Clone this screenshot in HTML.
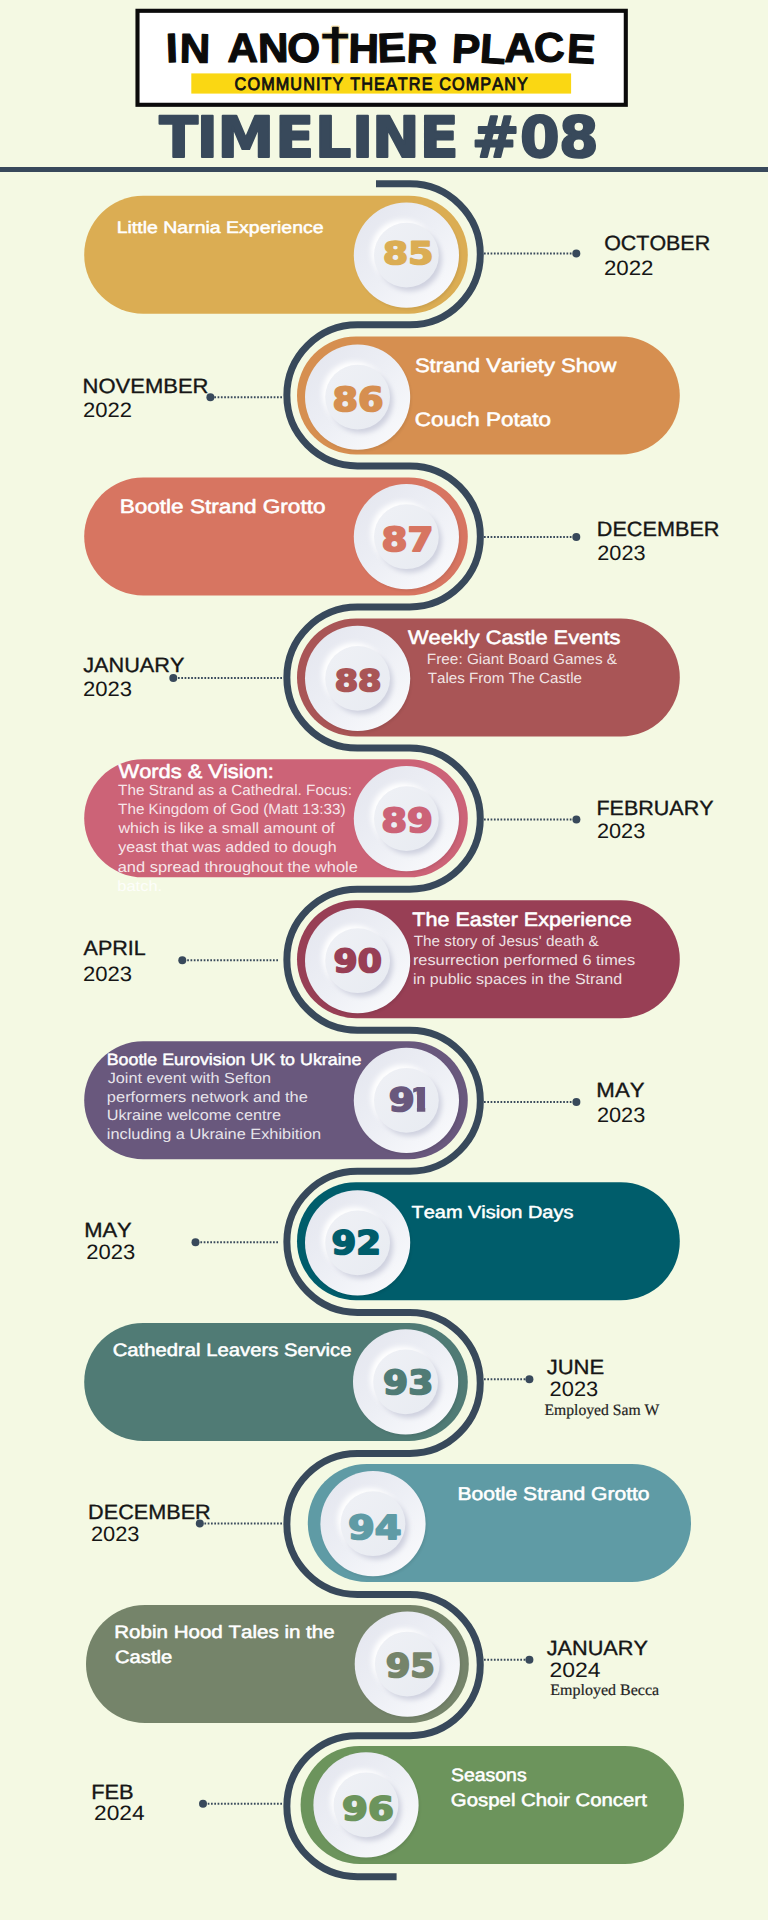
<!DOCTYPE html>
<html lang="en"><head><meta charset="utf-8"><title>In Another Place - Timeline #08</title>
<style>
html,body{margin:0;padding:0;background:#F4F9E3;}
body{width:768px;height:1920px;overflow:hidden;position:relative;font-family:'Liberation Sans', 'DejaVu Sans', sans-serif;}
svg{display:block;position:absolute;left:0;top:0}
text{white-space:pre;font-kerning:none;text-rendering:geometricPrecision}
</style></head><body>
<svg width="768" height="1920" viewBox="0 0 768 1920">
<defs>
<linearGradient id="gOuter" x1="0.15" y1="0.15" x2="0.85" y2="0.85">
<stop offset="0" stop-color="#E6E8F0"/><stop offset="0.5" stop-color="#EDEFF5"/><stop offset="1" stop-color="#F7F8FB"/>
</linearGradient>
<linearGradient id="gInner" x1="0.15" y1="0.15" x2="0.85" y2="0.85">
<stop offset="0" stop-color="#EEF0F5"/><stop offset="1" stop-color="#E9ECF2"/>
</linearGradient>
<filter id="blur3" x="-30%" y="-30%" width="160%" height="160%"><feGaussianBlur stdDeviation="2.6"/></filter>
<filter id="blur2" x="-30%" y="-30%" width="160%" height="160%"><feGaussianBlur stdDeviation="1.6"/></filter>
<g id="btn">
<circle cx="1.5" cy="2" r="52" fill="#000" opacity="0.08" filter="url(#blur2)"/>
<circle cx="0" cy="0" r="52.6" fill="url(#gOuter)"/>
<circle cx="-3.5" cy="-3.5" r="32" fill="#FFFFFF" filter="url(#blur3)"/>
<circle cx="3.5" cy="4" r="32" fill="#CFD1DF" filter="url(#blur3)"/>
<circle cx="0" cy="0" r="32.4" fill="url(#gInner)"/>
</g>
</defs>
<rect width="768" height="1920" fill="#F4F9E3"/>

<g id="logo">
<rect x="137.5" y="10.8" width="488.3" height="94" fill="#FFFFFF" stroke="#0B0B0B" stroke-width="4.1"/>
<rect x="191.3" y="73.4" width="379.8" height="20.2" fill="#FAD713"/>
<g id="cross-bg" fill="#F6E2AE">
<rect x="330.8" y="25.4" width="9.2" height="38.9" rx="1.6"/>
<rect x="321.6" y="32.4" width="27.2" height="7.7" rx="1.6"/>
</g>
<text transform="scale(1.0299 1)" font-size="40.99" fill="#0B0B0B" font-family="'Liberation Sans', 'DejaVu Sans', sans-serif" font-weight="bold" stroke="#0B0B0B" stroke-width="1.2" stroke-linejoin="round"><tspan x="161.79" y="62.20" rotate="-2">I</tspan><tspan x="174.39" y="62.20" rotate="1">N</tspan> <tspan x="220.92" y="62.20">A</tspan><tspan x="250.86" y="62.20" rotate="-1">N</tspan><tspan x="278.85" y="62.20">O</tspan><tspan x="312.46" y="63.00" font-size="42.52" stroke="none">T</tspan><tspan x="338.09" y="62.20" rotate="1">H</tspan><tspan x="367.04" y="62.20" rotate="-2">E</tspan><tspan x="394.47" y="62.20" rotate="2">R</tspan> <tspan x="438.21" y="62.20" rotate="3">P</tspan><tspan x="465.26" y="62.20" rotate="4">L</tspan><tspan x="489.68" y="62.20">A</tspan><tspan x="519.27" y="62.20" rotate="-3">C</tspan><tspan x="550.11" y="62.20" rotate="3">E</tspan></text>
<rect id="cross-top" x="332.1" y="26.7" width="6.6" height="8" rx="0.8" fill="#0B0B0B"/>
<text transform="translate(234.60 89.90) scale(0.9000 1)" font-size="18.02" fill="#111111" font-family="'Liberation Sans', 'DejaVu Sans', sans-serif" stroke="#111111" stroke-width="0.85" stroke-linejoin="round" letter-spacing="1.230">COMMUNITY THEATRE COMPANY</text>
</g>
<text transform="scale(1.0048 1)" font-size="56.65" fill="#38495B" font-family="'DejaVu Sans', 'Liberation Sans', sans-serif" font-weight="bold" stroke="#38495B" stroke-width="2.0" stroke-linejoin="round"><tspan x="158.59" y="156.50">T</tspan><tspan x="195.84" y="156.50">I</tspan><tspan x="216.36" y="156.50">M</tspan><tspan x="273.97" y="156.50">E</tspan><tspan x="313.54" y="156.50">L</tspan><tspan x="350.21" y="156.50">I</tspan><tspan x="370.32" y="156.50">N</tspan><tspan x="417.69" y="156.50">E</tspan> <tspan x="469.52" y="156.50">#</tspan><tspan x="517.63" y="156.50">0</tspan><tspan x="556.32" y="156.50">8</tspan></text>
<rect x="0" y="167" width="768" height="5" fill="#38495B"/>
<path id="track" d="M376 183.75 H409.8 A70.54 70.54 0 0 1 409.8 324.83 H357.4 A70.54 70.54 0 0 0 357.4 465.91 H409.8 A70.54 70.54 0 0 1 409.8 606.99 H357.4 A70.54 70.54 0 0 0 357.4 748.07 H409.8 A70.54 70.54 0 0 1 409.8 889.15 H357.4 A70.54 70.54 0 0 0 357.4 1030.23 H409.8 A70.54 70.54 0 0 1 409.8 1171.31 H357.4 A70.54 70.54 0 0 0 357.4 1312.39 H409.8 A70.54 70.54 0 0 1 409.8 1453.47 H357.4 A70.54 70.54 0 0 0 357.4 1594.55 H409.8 A70.54 70.54 0 0 1 409.8 1735.63 H357.4 A70.54 70.54 0 0 0 357.4 1876.71 H396.6" fill="none" stroke="#38495B" stroke-width="7"/>
<g class="row" id="item-85">
<rect class="pill" x="84.2" y="195.65" width="383.6" height="118" rx="59" fill="#DBAD53"/>
<use href="#btn" x="406.4" y="255.15"/>
<text transform="translate(383.10 264.40) scale(1.1667 1)" font-size="30.86" fill="#DBAD53" font-family="'DejaVu Sans', 'Liberation Sans', sans-serif" font-weight="bold" stroke="#DBAD53" stroke-width="1.8" stroke-linejoin="round">85</text>
<text transform="translate(116.64 233.00) scale(1.1704 1)" font-size="16.66" fill="#FFFFFF" font-family="'Liberation Sans', 'DejaVu Sans', sans-serif" stroke="#FFFFFF" stroke-width="0.48" stroke-linejoin="round">Little Narnia Experience</text>
<line x1="484" y1="253.4" x2="576.3" y2="253.4" stroke="#38495B" stroke-width="2" stroke-dasharray="1.7 1.6"/>
<circle cx="576.3" cy="253.4" r="4" fill="#38495B"/>
<text transform="translate(604.16 250.40) scale(1.0392 1)" font-size="20.64" fill="#161616" font-family="'Liberation Sans', 'DejaVu Sans', sans-serif" stroke="#161616" stroke-width="0.35" stroke-linejoin="round">OCTOBER</text>
<text transform="translate(603.88 274.90) scale(1.0812 1)" font-size="20.64" fill="#161616" font-family="'Liberation Sans', 'DejaVu Sans', sans-serif">2022</text>
</g>
<g class="row" id="item-86">
<rect class="pill" x="297" y="336.58" width="382.8" height="118" rx="59" fill="#D68F50"/>
<use href="#btn" x="357.6" y="397.08"/>
<text transform="translate(332.46 411.30) scale(1.1065 1)" font-size="33.20" fill="#D68F50" font-family="'DejaVu Sans', 'Liberation Sans', sans-serif" font-weight="bold" stroke="#D68F50" stroke-width="1.8" stroke-linejoin="round">86</text>
<text transform="translate(414.88 372.20) scale(1.1380 1)" font-size="19.43" fill="#FFFFFF" font-family="'Liberation Sans', 'DejaVu Sans', sans-serif" stroke="#FFFFFF" stroke-width="0.56" stroke-linejoin="round">Strand Variety Show</text>
<text transform="translate(414.74 426.10) scale(1.1577 1)" font-size="19.43" fill="#FFFFFF" font-family="'Liberation Sans', 'DejaVu Sans', sans-serif" stroke="#FFFFFF" stroke-width="0.56" stroke-linejoin="round">Couch Potato</text>
<line x1="282" y1="397.2" x2="210.4" y2="397.2" stroke="#38495B" stroke-width="2" stroke-dasharray="1.7 1.6"/>
<circle cx="210.4" cy="397.2" r="4" fill="#38495B"/>
<text transform="translate(82.57 392.50) scale(1.0665 1)" font-size="20.64" fill="#161616" font-family="'Liberation Sans', 'DejaVu Sans', sans-serif" stroke="#161616" stroke-width="0.35" stroke-linejoin="round">NOVEMBER</text>
<text transform="translate(83.09 416.70) scale(1.0675 1)" font-size="20.64" fill="#161616" font-family="'Liberation Sans', 'DejaVu Sans', sans-serif">2022</text>
</g>
<g class="row" id="item-87">
<rect class="pill" x="84.2" y="477.51" width="383.6" height="118" rx="59" fill="#D77561"/>
<use href="#btn" x="406.4" y="536.71"/>
<text transform="translate(381.42 551.30) scale(1.1246 1)" font-size="33.20" fill="#D77561" font-family="'DejaVu Sans', 'Liberation Sans', sans-serif" font-weight="bold" stroke="#D77561" stroke-width="1.8" stroke-linejoin="round">87</text>
<text transform="translate(119.63 513.40) scale(1.1630 1)" font-size="19.43" fill="#FFFFFF" font-family="'Liberation Sans', 'DejaVu Sans', sans-serif" stroke="#FFFFFF" stroke-width="0.56" stroke-linejoin="round">Bootle Strand Grotto</text>
<line x1="484" y1="537" x2="576.3" y2="537" stroke="#38495B" stroke-width="2" stroke-dasharray="1.7 1.6"/>
<circle cx="576.3" cy="537" r="4" fill="#38495B"/>
<text transform="translate(596.80 535.50) scale(1.0492 1)" font-size="20.64" fill="#161616" font-family="'Liberation Sans', 'DejaVu Sans', sans-serif" stroke="#161616" stroke-width="0.35" stroke-linejoin="round">DECEMBER</text>
<text transform="translate(597.31 560.00) scale(1.0507 1)" font-size="20.64" fill="#161616" font-family="'Liberation Sans', 'DejaVu Sans', sans-serif">2023</text>
</g>
<g class="row" id="item-88">
<rect class="pill" x="297" y="618.44" width="382.8" height="118" rx="59" fill="#A95556"/>
<use href="#btn" x="357.6" y="678.34"/>
<text transform="translate(334.75 691.00) scale(1.1334 1)" font-size="29.63" fill="#A95556" font-family="'DejaVu Sans', 'Liberation Sans', sans-serif" font-weight="bold" stroke="#A95556" stroke-width="1.8" stroke-linejoin="round">88</text>
<text transform="translate(407.98 644.40) scale(1.1245 1)" font-size="19.43" fill="#FFFFFF" font-family="'Liberation Sans', 'DejaVu Sans', sans-serif" stroke="#FFFFFF" stroke-width="0.56" stroke-linejoin="round">Weekly Castle Events</text>
<text transform="translate(426.84 663.90) scale(1.0351 1)" font-size="14.83" fill="#FFFFFF" font-family="'Liberation Sans', 'DejaVu Sans', sans-serif" fill-opacity="0.86">Free: Giant Board Games &amp;</text>
<text transform="translate(427.76 683.00) scale(1.0228 1)" font-size="14.83" fill="#FFFFFF" font-family="'Liberation Sans', 'DejaVu Sans', sans-serif" fill-opacity="0.86">Tales From The Castle</text>
<line x1="282" y1="678" x2="173.3" y2="678" stroke="#38495B" stroke-width="2" stroke-dasharray="1.7 1.6"/>
<circle cx="173.3" cy="678" r="4" fill="#38495B"/>
<text transform="translate(83.24 671.70) scale(1.0512 1)" font-size="20.64" fill="#161616" font-family="'Liberation Sans', 'DejaVu Sans', sans-serif" stroke="#161616" stroke-width="0.35" stroke-linejoin="round">JANUARY</text>
<text transform="translate(82.89 696.00) scale(1.0689 1)" font-size="20.64" fill="#161616" font-family="'Liberation Sans', 'DejaVu Sans', sans-serif">2023</text>
</g>
<g class="row" id="item-89">
<rect class="pill" x="84.2" y="759.37" width="383.6" height="118" rx="59" fill="#CC6377"/>
<use href="#btn" x="406.4" y="818.57"/>
<text transform="translate(381.14 832.20) scale(1.1178 1)" font-size="33.20" fill="#CC6377" font-family="'DejaVu Sans', 'Liberation Sans', sans-serif" font-weight="bold" stroke="#CC6377" stroke-width="1.8" stroke-linejoin="round">89</text>
<text transform="translate(118.58 778.10) scale(1.1244 1)" font-size="19.43" fill="#FFFFFF" font-family="'Liberation Sans', 'DejaVu Sans', sans-serif" stroke="#FFFFFF" stroke-width="0.56" stroke-linejoin="round">Words &amp; Vision:</text>
<text transform="translate(118.06 794.50) scale(1.0319 1)" font-size="14.83" fill="#FFFFFF" font-family="'Liberation Sans', 'DejaVu Sans', sans-serif" fill-opacity="0.86">The Strand as a Cathedral. Focus:</text>
<text transform="translate(118.06 814.00) scale(1.0301 1)" font-size="14.83" fill="#FFFFFF" font-family="'Liberation Sans', 'DejaVu Sans', sans-serif" fill-opacity="0.86">The Kingdom of God (Matt 13:33)</text>
<text transform="translate(118.42 833.20) scale(1.0805 1)" font-size="14.83" fill="#FFFFFF" font-family="'Liberation Sans', 'DejaVu Sans', sans-serif" fill-opacity="0.86">which is like a small amount of</text>
<text transform="translate(118.36 852.30) scale(1.0809 1)" font-size="14.83" fill="#FFFFFF" font-family="'Liberation Sans', 'DejaVu Sans', sans-serif" fill-opacity="0.86">yeast that was added to dough</text>
<text transform="translate(117.70 871.50) scale(1.1077 1)" font-size="14.83" fill="#FFFFFF" font-family="'Liberation Sans', 'DejaVu Sans', sans-serif" fill-opacity="0.86">and spread throughout the whole</text>
<text transform="translate(117.34 890.60) scale(1.1082 1)" font-size="14.83" fill="#FFFFFF" font-family="'Liberation Sans', 'DejaVu Sans', sans-serif" fill-opacity="0.86">batch.</text>
<line x1="484" y1="819.6" x2="576.4" y2="819.6" stroke="#38495B" stroke-width="2" stroke-dasharray="1.7 1.6"/>
<circle cx="576.4" cy="819.6" r="4" fill="#38495B"/>
<text transform="translate(596.41 815.00) scale(1.0427 1)" font-size="20.64" fill="#161616" font-family="'Liberation Sans', 'DejaVu Sans', sans-serif" stroke="#161616" stroke-width="0.35" stroke-linejoin="round">FEBRUARY</text>
<text transform="translate(596.91 838.40) scale(1.0530 1)" font-size="20.64" fill="#161616" font-family="'Liberation Sans', 'DejaVu Sans', sans-serif">2023</text>
</g>
<g class="row" id="item-90">
<rect class="pill" x="297" y="900.30" width="382.8" height="118" rx="59" fill="#983F55"/>
<use href="#btn" x="357.6" y="960.70"/>
<text transform="translate(333.51 971.90) scale(1.0896 1)" font-size="31.82" fill="#983F55" font-family="'DejaVu Sans', 'Liberation Sans', sans-serif" font-weight="bold" stroke="#983F55" stroke-width="1.8" stroke-linejoin="round">90</text>
<text transform="translate(412.29 926.30) scale(1.1113 1)" font-size="19.43" fill="#FFFFFF" font-family="'Liberation Sans', 'DejaVu Sans', sans-serif" stroke="#FFFFFF" stroke-width="0.56" stroke-linejoin="round">The Easter Experience</text>
<text transform="translate(413.66 945.90) scale(1.0324 1)" font-size="14.83" fill="#FFFFFF" font-family="'Liberation Sans', 'DejaVu Sans', sans-serif" fill-opacity="0.86">The story of Jesus' death &amp;</text>
<text transform="translate(412.92 965.00) scale(1.1001 1)" font-size="14.83" fill="#FFFFFF" font-family="'Liberation Sans', 'DejaVu Sans', sans-serif" fill-opacity="0.86">resurrection performed 6 times</text>
<text transform="translate(412.93 984.10) scale(1.0796 1)" font-size="14.83" fill="#FFFFFF" font-family="'Liberation Sans', 'DejaVu Sans', sans-serif" fill-opacity="0.86">in public spaces in the Strand</text>
<line x1="278" y1="960.3" x2="182.3" y2="960.3" stroke="#38495B" stroke-width="2" stroke-dasharray="1.7 1.6"/>
<circle cx="182.3" cy="960.3" r="4" fill="#38495B"/>
<text transform="translate(83.53 954.80) scale(1.0428 1)" font-size="20.64" fill="#161616" font-family="'Liberation Sans', 'DejaVu Sans', sans-serif" stroke="#161616" stroke-width="0.35" stroke-linejoin="round">APRIL</text>
<text transform="translate(82.89 980.60) scale(1.0689 1)" font-size="20.64" fill="#161616" font-family="'Liberation Sans', 'DejaVu Sans', sans-serif">2023</text>
</g>
<g class="row" id="item-91">
<rect class="pill" x="84.2" y="1041.23" width="383.6" height="118" rx="59" fill="#69587D"/>
<use href="#btn" x="406.4" y="1100.33"/>
<g class="num">
<text transform="translate(388.77 1110.80) scale(1.1601 1)" font-size="32.10" fill="#69587D" font-family="'DejaVu Sans', 'Liberation Sans', sans-serif" font-weight="bold" stroke="#69587D" stroke-width="1.8" stroke-linejoin="round">9</text>
<clipPath id="c91"><polygon points="413.2,1085 425.3,1085 425.3,1111.8 416.9,1111.8 416.9,1094.5 413.2,1094.5"/></clipPath>
<g clip-path="url(#c91)"><text transform="translate(402.85 1111.7) scale(1.66 1)" font-size="36.34" font-weight="bold" font-family="'Liberation Sans', 'DejaVu Sans', sans-serif" fill="#69587D">1</text></g>
</g>
<text transform="translate(106.67 1065.20) scale(1.0987 1)" font-size="16.24" fill="#FFFFFF" font-family="'Liberation Sans', 'DejaVu Sans', sans-serif" stroke="#FFFFFF" stroke-width="0.47" stroke-linejoin="round">Bootle Eurovision UK to Ukraine</text>
<text transform="translate(107.65 1082.70) scale(1.0954 1)" font-size="14.83" fill="#FFFFFF" font-family="'Liberation Sans', 'DejaVu Sans', sans-serif" fill-opacity="0.86">Joint event with Sefton</text>
<text transform="translate(106.84 1101.50) scale(1.1087 1)" font-size="14.83" fill="#FFFFFF" font-family="'Liberation Sans', 'DejaVu Sans', sans-serif" fill-opacity="0.86">performers network and the</text>
<text transform="translate(106.65 1120.20) scale(1.0959 1)" font-size="14.83" fill="#FFFFFF" font-family="'Liberation Sans', 'DejaVu Sans', sans-serif" fill-opacity="0.86">Ukraine welcome centre</text>
<text transform="translate(106.81 1139.40) scale(1.1016 1)" font-size="14.83" fill="#FFFFFF" font-family="'Liberation Sans', 'DejaVu Sans', sans-serif" fill-opacity="0.86">including a Ukraine Exhibition</text>
<line x1="484" y1="1101.9" x2="576.4" y2="1101.9" stroke="#38495B" stroke-width="2" stroke-dasharray="1.7 1.6"/>
<circle cx="576.4" cy="1101.9" r="4" fill="#38495B"/>
<text transform="translate(596.35 1096.70) scale(1.0791 1)" font-size="20.64" fill="#161616" font-family="'Liberation Sans', 'DejaVu Sans', sans-serif" stroke="#161616" stroke-width="0.35" stroke-linejoin="round">MAY</text>
<text transform="translate(596.91 1121.80) scale(1.0530 1)" font-size="20.64" fill="#161616" font-family="'Liberation Sans', 'DejaVu Sans', sans-serif">2023</text>
</g>
<g class="row" id="item-92">
<rect class="pill" x="297" y="1182.16" width="382.8" height="118" rx="59" fill="#005D6B"/>
<use href="#btn" x="357.6" y="1242.86"/>
<text transform="translate(331.56 1253.50) scale(1.0879 1)" font-size="32.65" fill="#005D6B" font-family="'DejaVu Sans', 'Liberation Sans', sans-serif" font-weight="bold" stroke="#005D6B" stroke-width="1.8" stroke-linejoin="round">92</text>
<text transform="translate(411.50 1218.00) scale(1.1413 1)" font-size="17.49" fill="#FFFFFF" font-family="'Liberation Sans', 'DejaVu Sans', sans-serif" stroke="#FFFFFF" stroke-width="0.5" stroke-linejoin="round">Team Vision Days</text>
<line x1="278" y1="1242.3" x2="195.5" y2="1242.3" stroke="#38495B" stroke-width="2" stroke-dasharray="1.7 1.6"/>
<circle cx="195.5" cy="1242.3" r="4" fill="#38495B"/>
<text transform="translate(84.17 1237.20) scale(1.0651 1)" font-size="20.64" fill="#161616" font-family="'Liberation Sans', 'DejaVu Sans', sans-serif" stroke="#161616" stroke-width="0.35" stroke-linejoin="round">MAY</text>
<text transform="translate(86.19 1258.70) scale(1.0666 1)" font-size="20.64" fill="#161616" font-family="'Liberation Sans', 'DejaVu Sans', sans-serif">2023</text>
</g>
<g class="row" id="item-93">
<rect class="pill" x="84.2" y="1323.09" width="383.6" height="118" rx="59" fill="#507B75"/>
<use href="#btn" x="405.6" y="1381.89"/>
<text transform="translate(383.03 1394.40) scale(1.0921 1)" font-size="33.06" fill="#507B75" font-family="'DejaVu Sans', 'Liberation Sans', sans-serif" font-weight="bold" stroke="#507B75" stroke-width="1.8" stroke-linejoin="round">93</text>
<text transform="translate(112.63 1355.70) scale(1.1322 1)" font-size="17.91" fill="#FFFFFF" font-family="'Liberation Sans', 'DejaVu Sans', sans-serif" stroke="#FFFFFF" stroke-width="0.52" stroke-linejoin="round">Cathedral Leavers Service</text>
<line x1="484" y1="1379.3" x2="529.4" y2="1379.3" stroke="#38495B" stroke-width="2" stroke-dasharray="1.7 1.6"/>
<circle cx="529.4" cy="1379.3" r="4" fill="#38495B"/>
<text transform="translate(546.63 1374.20) scale(1.0695 1)" font-size="20.64" fill="#161616" font-family="'Liberation Sans', 'DejaVu Sans', sans-serif" stroke="#161616" stroke-width="0.35" stroke-linejoin="round">JUNE</text>
<text transform="translate(549.60 1396.40) scale(1.0598 1)" font-size="20.64" fill="#161616" font-family="'Liberation Sans', 'DejaVu Sans', sans-serif">2023</text>
<text transform="translate(544.55 1415.00) scale(0.9856 1)" font-size="15.88" fill="#222" font-family="'Liberation Serif', 'DejaVu Serif', serif" stroke="#222" stroke-width="0.2" stroke-linejoin="round">Employed Sam W</text>
</g>
<g class="row" id="item-94">
<rect class="pill" x="307.8" y="1464.02" width="383.2" height="118" rx="59" fill="#5F9BA5"/>
<use href="#btn" x="373" y="1523.72"/>
<text transform="translate(347.91 1538.50) scale(1.1594 1)" font-size="33.20" fill="#5F9BA5" font-family="'DejaVu Sans', 'Liberation Sans', sans-serif" font-weight="bold" stroke="#5F9BA5" stroke-width="1.8" stroke-linejoin="round">94</text>
<text transform="translate(457.53 1499.60) scale(1.1425 1)" font-size="18.46" fill="#FFFFFF" font-family="'Liberation Sans', 'DejaVu Sans', sans-serif" stroke="#FFFFFF" stroke-width="0.53" stroke-linejoin="round">Bootle Strand Grotto</text>
<line x1="282" y1="1523.4" x2="199.8" y2="1523.4" stroke="#38495B" stroke-width="2" stroke-dasharray="1.7 1.6"/>
<circle cx="199.8" cy="1523.4" r="4" fill="#38495B"/>
<text transform="translate(88.10 1518.75) scale(1.0492 1)" font-size="20.64" fill="#161616" font-family="'Liberation Sans', 'DejaVu Sans', sans-serif" stroke="#161616" stroke-width="0.35" stroke-linejoin="round">DECEMBER</text>
<text transform="translate(90.90 1541.00) scale(1.0575 1)" font-size="20.64" fill="#161616" font-family="'Liberation Sans', 'DejaVu Sans', sans-serif">2023</text>
</g>
<g class="row" id="item-95">
<rect class="pill" x="86" y="1604.95" width="382.8" height="118" rx="59" fill="#75846A"/>
<use href="#btn" x="407.3" y="1664.05"/>
<text transform="translate(385.67 1677.20) scale(1.0853 1)" font-size="32.65" fill="#75846A" font-family="'DejaVu Sans', 'Liberation Sans', sans-serif" font-weight="bold" stroke="#75846A" stroke-width="1.8" stroke-linejoin="round">95</text>
<text transform="translate(114.27 1637.70) scale(1.1471 1)" font-size="17.91" fill="#FFFFFF" font-family="'Liberation Sans', 'DejaVu Sans', sans-serif" stroke="#FFFFFF" stroke-width="0.52" stroke-linejoin="round">Robin Hood Tales in the</text>
<text transform="translate(114.93 1663.00) scale(1.1290 1)" font-size="17.91" fill="#FFFFFF" font-family="'Liberation Sans', 'DejaVu Sans', sans-serif" stroke="#FFFFFF" stroke-width="0.52" stroke-linejoin="round">Castle</text>
<line x1="484" y1="1659.7" x2="529.4" y2="1659.7" stroke="#38495B" stroke-width="2" stroke-dasharray="1.7 1.6"/>
<circle cx="529.4" cy="1659.7" r="4" fill="#38495B"/>
<text transform="translate(546.64 1655.00) scale(1.0522 1)" font-size="20.64" fill="#161616" font-family="'Liberation Sans', 'DejaVu Sans', sans-serif" stroke="#161616" stroke-width="0.35" stroke-linejoin="round">JANUARY</text>
<text transform="translate(549.54 1676.70) scale(1.1135 1)" font-size="20.64" fill="#161616" font-family="'Liberation Sans', 'DejaVu Sans', sans-serif">2024</text>
<text transform="translate(550.34 1694.60) scale(1.0068 1)" font-size="15.88" fill="#222" font-family="'Liberation Serif', 'DejaVu Serif', serif" stroke="#222" stroke-width="0.2" stroke-linejoin="round">Employed Becca</text>
</g>
<g class="row" id="item-96">
<rect class="pill" x="300.6" y="1745.88" width="383.4" height="118" rx="59" fill="#6C945C"/>
<use href="#btn" x="366" y="1804.88"/>
<text transform="translate(342.07 1819.70) scale(1.1408 1)" font-size="32.65" fill="#6C945C" font-family="'DejaVu Sans', 'Liberation Sans', sans-serif" font-weight="bold" stroke="#6C945C" stroke-width="1.8" stroke-linejoin="round">96</text>
<text transform="translate(450.98 1780.80) scale(1.0858 1)" font-size="17.91" fill="#FFFFFF" font-family="'Liberation Sans', 'DejaVu Sans', sans-serif" stroke="#FFFFFF" stroke-width="0.52" stroke-linejoin="round">Seasons</text>
<text transform="translate(450.84 1805.80) scale(1.1381 1)" font-size="17.91" fill="#FFFFFF" font-family="'Liberation Sans', 'DejaVu Sans', sans-serif" stroke="#FFFFFF" stroke-width="0.52" stroke-linejoin="round">Gospel Choir Concert</text>
<line x1="282" y1="1803.8" x2="203" y2="1803.8" stroke="#38495B" stroke-width="2" stroke-dasharray="1.7 1.6"/>
<circle cx="203" cy="1803.8" r="4" fill="#38495B"/>
<text transform="translate(91.18 1798.75) scale(1.0586 1)" font-size="20.64" fill="#161616" font-family="'Liberation Sans', 'DejaVu Sans', sans-serif" stroke="#161616" stroke-width="0.35" stroke-linejoin="round">FEB</text>
<text transform="translate(94.06 1820.20) scale(1.1023 1)" font-size="20.64" fill="#161616" font-family="'Liberation Sans', 'DejaVu Sans', sans-serif">2024</text>
</g>
</svg>
</body></html>
